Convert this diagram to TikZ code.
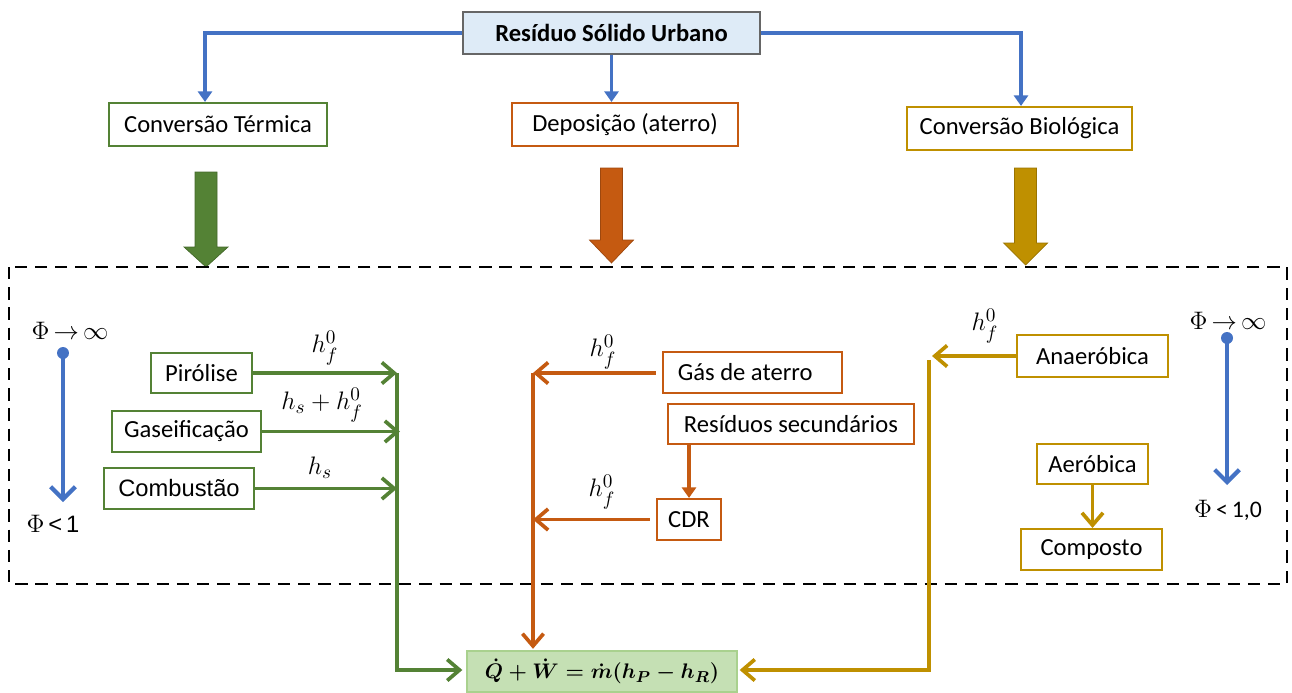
\documentclass[tikz,border=0pt]{standalone}
\usepackage{amsmath}
\usepackage{fontspec}
\setmainfont{Carlito}
\newfontfamily\arialf{Liberation Sans}
\usetikzlibrary{arrows.meta,calc}
\definecolor{cgreen}{HTML}{548235}
\definecolor{corange}{HTML}{C55A11}
\definecolor{cgold}{HTML}{BF9000}
\definecolor{cblue}{HTML}{4472C4}
\definecolor{topfill}{HTML}{DEEBF7}
\definecolor{eqfill}{HTML}{C5E0B4}
\definecolor{eqborder}{HTML}{A9D18E}
\tikzset{
  box/.style={draw, line width=1.2pt, fill=white, inner sep=0pt, font=\fontsize{14}{16}\selectfont},
  wire/.style={line width=2.1pt},
  barb/.style={-{Straight Barb[length=7pt,width=12pt]}},
  tri/.style={-{Triangle[length=6pt,width=8pt]}},
  mlabel/.style={font=\fontsize{15.5}{18}\selectfont, inner sep=1pt},
  philabel/.style={font=\fontsize{13.5}{16}\selectfont, inner sep=1pt},
  eqbox/.style={draw=eqborder, fill=eqfill, line width=0.8pt, minimum width=5.4cm, minimum height=0.82cm, inner sep=0pt, font=\fontsize{13}{16}\selectfont\boldmath},
}
\newcommand{\bigarrow}[5]{%
  \filldraw[fill=#5, draw=#5!80!black, line width=0.4pt]
    (#1-11,#2) -- (#1+11,#2) -- (#1+11,#3) -- (#1+22,#3) -- (#1,#4)
    -- (#1-22,#3) -- (#1-11,#3) -- cycle;}
\begin{document}
\begin{tikzpicture}[x=0.02cm, y=-0.02cm]
\useasboundingbox (0,0) rectangle (1292,693);

% top level
\node[box, draw=gray!80!black, line width=0.8pt, fill=topfill, minimum width=5.94cm, minimum height=0.84cm, font=\bfseries\fontsize{14}{16}\selectfont] (rsu) at (611.5,33) {Resíduo Sólido Urbano};
\node[box, draw=cgreen, minimum width=4.36cm, minimum height=0.86cm] (ct) at (218,124.5) {Conversão Térmica};
\node[box, draw=corange, minimum width=4.52cm, minimum height=0.86cm] (dep) at (625,124.5) {Deposição (aterro)};
\node[box, draw=cgold, minimum width=4.5cm, minimum height=0.86cm] (cb) at (1019.5,128.5) {Conversão Biológica};

\draw[wire, cblue, tri] (rsu.west) -| ([xshift=-0.26cm]ct.north);
\draw[wire, cblue, tri] (rsu.south) -- (rsu.south |- dep.north);
\draw[wire, cblue, tri] (rsu.east) -| ([xshift=0.03cm]cb.north);

% big arrows
\bigarrow{206}{172}{247}{267}{cgreen}
\bigarrow{611.5}{168}{240}{263}{corange}
\bigarrow{1025.5}{168}{243}{265}{cgold}

% dashed frame
\draw[line width=1.4pt, dash pattern=on 7pt off 4.5pt] (9,267) rectangle (1287,584);

% equation
\node[eqbox] (eq) at (602,671.5) {$\dot{Q}+\dot{W}=\dot{m}(h_P-h_R)$};

% thermal branch
\node[box, draw=cgreen, minimum width=2.02cm, minimum height=0.8cm] (pir) at (201.5,373) {Pirólise};
\node[box, draw=cgreen, minimum width=2.98cm, minimum height=0.82cm] (gas) at (186.5,431.5) {Gaseificação};
\node[box, draw=cgreen, minimum width=3.0cm, minimum height=0.82cm, font=\arialf\fontsize{13.5}{16}\selectfont] (comb) at (179,488.5) {Combustão};

\coordinate (gtop) at (397,373);
\coordinate (gbot) at (397,670);
\draw[wire, cgreen, barb] (pir.east) -- (pir.east -| gtop);
\draw[wire, cgreen, barb] (gas.east) -- ([xshift=0.06cm]gas.east -| gtop);
\draw[wire, cgreen, barb] (comb.east) -- (comb.east -| gtop);
\draw[wire, cgreen, barb] (gtop) -- (gbot) -- ([xshift=-0.08cm]eq.west |- gbot);

\node[mlabel] (l1) at (325,348) {$h_f^0$};
\node[mlabel] (l2) at (322,405) {$h_s+h_f^0$};
\node[mlabel] (l3) at (320,468) {$h_s$};

% landfill branch
\node[box, draw=corange, minimum width=3.58cm, minimum height=0.82cm] (gda) at (752.5,372.5) {Gás de aterro\hspace*{0.6em}};
\node[box, draw=corange, minimum width=4.92cm, minimum height=0.8cm] (rs) at (791,424) {Resíduos secundários};
\node[box, draw=corange, minimum width=1.28cm, minimum height=0.82cm] (cdr) at (689,519.5) {CDR};

\coordinate (otop) at (533,373);
\draw[wire, corange, barb] ([xshift=-0.12cm]gda.west |- otop) -- (otop);
\draw[wire, corange, barb] ([xshift=-0.12cm]cdr.west) -- (cdr.west -| otop);
\draw[wire, corange, tri] (rs.south -| cdr.north) -- (cdr.north);
\draw[wire, corange, barb] (otop) -- ([yshift=0.03cm]otop |- eq.north);

\node[mlabel] (l4) at (603,352) {$h_f^0$};
\node[mlabel] (l5) at (602,492) {$h_f^0$};

% biological branch
\node[box, draw=cgold, minimum width=3.02cm, minimum height=0.84cm] (ana) at (1092.5,356) {Anaeróbica};
\node[box, draw=cgold, minimum width=2.22cm, minimum height=0.8cm] (aer) at (1092.5,464) {Aeróbica};
\node[box, draw=cgold, minimum width=2.82cm, minimum height=0.82cm] (comp) at (1091.5,549.5) {Composto};

\coordinate (ytop) at (929,360);
\coordinate (ybot) at (929,670);
\coordinate (anatip) at (932,356);
\draw[wire, cgold, barb] (ana.west) -- (anatip);
\draw[wire, cgold, barb] (ytop) -- (ybot) -- ([xshift=0.04cm]eq.east |- ybot);
\draw[wire, cgold, barb] (aer.south) -- (aer.south |- comp.north);

\node[mlabel] (l6) at (985,326) {$h_f^0$};

% Phi indicators
\node[circle, fill=cblue, inner sep=0pt, minimum size=0.24cm] (dl) at (63,353) {};
\coordinate (dlend) at (63,502);
\draw[line width=2.4pt, cblue, -{Straight Barb[length=7pt,width=14pt]}] (dl.center) -- (dlend);
\node[philabel] (pl1) at (70,331) {$\Phi\mkern-2mu\rightarrow\mkern-2mu\infty$};
\node[philabel] (pl2) at (53,524) {$\Phi$\,{\arialf <}\,{\arialf 1}};

\node[circle, fill=cblue, inner sep=0pt, minimum size=0.24cm] (dr) at (1227,338) {};
\coordinate (drend) at (1227,485);
\draw[line width=2.4pt, cblue, -{Straight Barb[length=7pt,width=14pt]}] (dr.center) -- (drend);
\node[philabel] (pr1) at (1228,321) {$\Phi\mkern-2mu\rightarrow\mkern-2mu\infty$};
\node[philabel] (pr2) at (1228,510) {$\Phi$\,<\,1,0};
\end{tikzpicture}
\end{document}
